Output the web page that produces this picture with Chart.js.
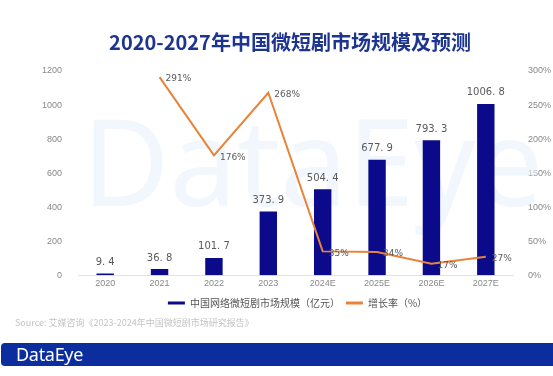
<!DOCTYPE html>
<html>
<head>
<meta charset="utf-8">
<script src="https://cdn.jsdelivr.net/npm/chart.js@4"></script>
<style>
  body { margin: 0; background: #fff; font-family: "Noto Sans CJK SC", "Noto Sans", sans-serif; }
  #wrap { position: relative; width: 553px; height: 376px; overflow: hidden; }
  #chart { position: absolute; left: 0; top: 0; }
  #title { position: absolute; left: 0; width: 580px; top: 27px; text-align: center;
           font-size: 20px; font-weight: bold; color: #1d358f; white-space: nowrap; }
  #source { position: absolute; left: 15px; top: 316px; font-size: 9px; color: #c4c4c4; white-space: nowrap; }
  #banner { position: absolute; left: 1px; top: 343px; width: 552px; height: 23px; background: #0b2d9e;
            border-radius: 4px 0 0 4px; }
  #banner span { position: absolute; left: 15px; top: -1px; color: #fff; font-family: "Noto Sans", sans-serif;
                 font-size: 18px; letter-spacing: -0.3px; }
</style>
</head>
<body>
<div id="wrap">
  <canvas id="chart" width="553" height="376"></canvas>
  <div id="title">2020-2027年中国微短剧市场规模及预测</div>
  <div id="source">Source: 艾媒咨询《2023-2024年中国微短剧市场研究报告》</div>
  <div id="banner"><span>DataEye</span></div>
</div>
<script>
const years = ["2020", "2021", "2022", "2023", "2024E", "2025E", "2026E", "2027E"];
const marketSize = [9.4, 36.8, 101.7, 373.9, 504.4, 677.9, 793.3, 1006.8];
const growthRate = [null, 291, 176, 268, 35, 34, 17, 27];

// faint watermark behind the plot
const watermark = {
    id: "watermark",
    beforeDatasetsDraw(chart) {
        const ctx = chart.ctx;
        ctx.save();
        ctx.fillStyle = "rgba(232, 241, 252, 0.6)";
        ctx.font = "120px 'Noto Sans', sans-serif";
        ctx.textBaseline = "middle";
        ctx.fillText("DataEye", 82, 172);
        ctx.restore();
    }
};

// value labels on bars and line points
const valueLabels = {
    id: "valueLabels",
    afterDatasetsDraw(chart) {
        const ctx = chart.ctx;
        ctx.save();
        ctx.fillStyle = "#5a5a5a";
        ctx.font = "10px 'DejaVu Sans', sans-serif";
        ctx.textAlign = "center";
        ctx.textBaseline = "bottom";
        chart.getDatasetMeta(0).data.forEach(function (bar, i) {
            ctx.fillText(marketSize[i].toFixed(1).replace(".", ". "), bar.x, bar.y - 6);
        });
        ctx.font = "9px 'DejaVu Sans', sans-serif";
        ctx.textAlign = "left";
        ctx.textBaseline = "middle";
        chart.getDatasetMeta(1).data.forEach(function (pt, i) {
            if (growthRate[i] === null) return;
            ctx.fillText(growthRate[i] + "%", pt.x + 6, pt.y + 2);
        });
        ctx.restore();
    }
};

new Chart(document.getElementById("chart"), {
    type: "bar",
    data: {
        labels: years,
        datasets: [{
            type: "bar",
            label: "中国网络微短剧市场规模（亿元）",
            data: marketSize,
            backgroundColor: "#0a0a8a",
            categoryPercentage: 1,
            barPercentage: 0.32,
            yAxisID: "y",
            order: 2
        }, {
            type: "line",
            label: "增长率（%）",
            data: growthRate,
            borderColor: "#e8833a",
            backgroundColor: "#e8833a",
            borderWidth: 2,
            pointRadius: 0,
            tension: 0,
            yAxisID: "y1",
            order: 1
        }]
    },
    options: {
        responsive: false,
        animation: false,
        layout: { padding: { top: 71, bottom: 58, left: 42, right: 0 } },
        plugins: {
            tooltip: { enabled: false },
            legend: {
                position: "bottom",
                labels: {
                    color: "#555",
                    font: { size: 10, family: "'Noto Sans CJK SC', sans-serif" },
                    boxWidth: 17,
                    boxHeight: 3,
                    padding: 6,
                    generateLabels: function (chart) {
                        return chart.data.datasets.map(function (ds, i) {
                            return {
                                text: ds.label,
                                fillStyle: ds.type === "line" ? "#e8833a" : "#0a0a8a",
                                strokeStyle: ds.type === "line" ? "#e8833a" : "#0a0a8a",
                                lineWidth: 0,
                                fontColor: "#555",
                                datasetIndex: i
                            };
                        });
                    }
                }
            }
        },
        scales: {
            x: {
                grid: { display: false, drawTicks: false, tickLength: 0 },
                border: { color: "#dfe3ea" },
                ticks: { color: "#888", font: { size: 9 }, padding: 3 }
            },
            y: {
                position: "left",
                min: 0, max: 1200,
                grid: { display: false },
                border: { display: false },
                ticks: { stepSize: 200, color: "#888", font: { size: 9 }, padding: 8,
                         callback: function (v) { return String(v); } },
                afterFit: function (s) { s.width = 36; }
            },
            y1: {
                position: "right",
                min: 0, max: 300,
                grid: { display: false },
                border: { display: false },
                ticks: { stepSize: 50, color: "#888", font: { size: 9 }, padding: 7,
                         callback: function (v) { return v + "%"; } },
                afterFit: function (s) { s.width = 40; }
            }
        }
    },
    plugins: [watermark, valueLabels]
});
</script>
</body>
</html>
